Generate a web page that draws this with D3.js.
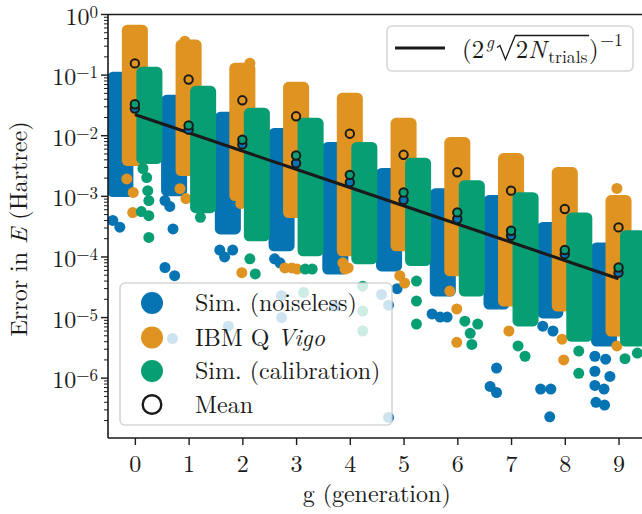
<!DOCTYPE html>
<html><head><meta charset="utf-8">
<script src="https://cdn.jsdelivr.net/npm/d3@7"></script>
<style>
body{margin:0;background:#fff}
svg{display:block}
text{font-family:"Latin Modern Roman","Liberation Serif","Times New Roman",serif;fill:#1a1a1a}
</style>
</head><body>
<svg id="chart" width="642" height="514"></svg>
<script>
// ---------------- data ----------------
const generations = [0,1,2,3,4,5,6,7,8,9];
const seriesNames = ["Sim. (noiseless)", "IBM Q Vigo", "Sim. (calibration)"];

// dense band of each column: highest and lowest point (Hartree)
const blueHi   = [0.092, 0.0384, 0.0201, 0.0109, 0.0064, 0.00238, 0.0011, 0.00085, 0.000306, 0.000141];
const blueLo   = [0.0012, 0.00124, 0.00029, 0.000153, 6.3e-5, 7.1e-5, 2.74e-5, 1.67e-5, 1.19e-5, 4.1e-6];
const orangeHi = [0.55, 0.313, 0.13, 0.063, 0.0415, 0.016, 0.0077, 0.0042, 0.00247, 0.00085];
const orangeLo = [0.0039, 0.00266, 0.00103, 0.00054, 0.000126, 0.000153, 5.9e-5, 1.87e-5, 1.55e-5, 6e-6];
const greenHi  = [0.112, 0.054, 0.0234, 0.016, 0.0064, 0.0035, 0.0015, 0.00095, 0.00044, 0.000224];
const greenLo  = [0.0042, 0.00065, 0.000223, 0.000126, 9.3e-5, 8.7e-5, 2.74e-5, 8.8e-6, 4.9e-6, 4.1e-6];

// isolated points [generation x (jittered), error]
const blueDots = [
  [-0.41,4.0e-4],[-0.28,3.1e-4],
  [0.56,8.5e-4],[0.65,6.8e-4],[0.71,2.9e-4],[0.56,6.7e-5],[0.74,4.9e-5],[0.70,4.5e-6],
  [1.58,1.3e-4],[1.82,1.3e-4],[1.67,1.0e-4],[1.74,7.2e-6],
  [2.60,9.3e-5],[2.70,8.0e-5],[2.73,2.3e-5],[2.73,1.0e-5],
  [3.72,1.55e-5],
  [4.88,3.0e-5],[4.59,2.4e-5],[4.72,1.6e-5],[4.72,2.25e-7],
  [5.53,1.15e-5],[5.68,1.02e-5],[5.81,1.02e-5],
  [6.73,1.47e-6],[6.61,7.3e-7],[6.73,5.8e-7],
  [7.59,7.2e-6],[7.78,6.0e-6],[7.55,6.6e-7],[7.74,6.6e-7],[7.72,2.3e-7],
  [8.56,2.3e-6],[8.76,2.06e-6],[8.56,1.3e-6],[8.84,1.07e-6],[8.56,7.6e-7],[8.73,6.6e-7],[8.58,4.0e-7],[8.74,3.6e-7]
];
const orangeDots = [
  [-0.15,1.94e-3],[-0.03,1.16e-3],[-0.04,5.4e-4],
  [0.93,0.363],[0.84,1.34e-3],[0.95,9.2e-4],
  [2.14,0.157],[1.97,7.6e-4],[1.99,5.5e-5],
  [2.79,6.6e-5],[2.92,6.6e-5],[3.02,6.3e-5],
  [3.87,8.0e-5],[3.91,6.3e-5],[3.97,6.6e-5],
  [4.93,4.9e-5],[5.02,3.7e-5],
  [5.86,2.74e-5],[5.99,1.39e-5],[5.99,3.9e-6],
  [6.96,6.0e-6],
  [7.95,4.4e-6],[7.98,2.0e-6],
  [8.97,1.35e-3],[8.97,3.4e-6]
];
const greenDots = [
  [0.15,2.88e-3],[0.22,2.04e-3],[0.24,1.24e-3],[0.26,8.5e-4],[0.12,5.6e-4],[0.26,4.8e-4],[0.26,2.1e-4],
  [1.22,4.5e-4],
  [2.24,5.25e-5],[2.14,9.3e-5],
  [3.17,6.3e-5],[3.30,6.3e-5],[3.14,2.6e-5],
  [4.24,3.3e-5],[4.24,1.28e-5],[4.24,6.0e-6],
  [5.24,4.0e-5],[5.24,1.87e-5],[5.24,7.8e-6],
  [6.14,8.7e-6],[6.38,7.8e-6],[6.24,5.5e-6],[6.27,3.6e-6],
  [7.13,3.4e-6],[7.26,2.3e-6],
  [8.26,2.8e-6],[8.26,1.2e-6],
  [9.12,2.1e-6],[9.35,2.6e-6]
];

// means per generation
const blueMean   = [0.028, 0.0126, 0.00718, 0.00352, 0.0017, 0.00087, 0.000422, 0.000224, 0.000111, 5.5e-5];
const orangeMean = [0.156, 0.0845, 0.0384, 0.0209, 0.0108, 0.00484, 0.0025, 0.00124, 0.000618, 0.000307];
const greenMean  = [0.033, 0.0148, 0.0086, 0.00472, 0.00226, 0.00116, 0.000543, 0.00027, 0.00013, 6.7e-5];

// (2^g sqrt(2 N_trials))^-1
const boundLine = [0.0224, 0.0112, 0.00559, 0.0028, 0.0014, 0.000699, 0.000349, 0.000175, 8.73e-5, 4.37e-5];

const xTickLabels = ["0","1","2","3","4","5","6","7","8","9"];
const yTickExponents = [0,-1,-2,-3,-4,-5,-6];

// ---------------- drawing ----------------
const svg = d3.select("#chart");
const L = 108, R = 645.4, T = 14.5, B = 438;
const x = d3.scaleLinear().domain([-0.5, 9.5]).range([L, R]);
const y = d3.scaleLog().domain([1.03e-7, 1]).range([B, T]);
const INK = "#1a1a1a";
const RAD = 5.5, JIT = 0.14;

const series = [
  {name: seriesNames[0], color:"#0673b3", offset:-0.27, hi:blueHi, lo:blueLo, dots:blueDots, mean:blueMean},
  {name: seriesNames[1], color:"#df9320", offset:0,     hi:orangeHi, lo:orangeLo, dots:orangeDots, mean:orangeMean},
  {name: seriesNames[2], color:"#089e74", offset:0.27,  hi:greenHi, lo:greenLo, dots:greenDots, mean:greenMean}
];

svg.append("defs").append("clipPath").attr("id","clip")
  .append("rect").attr("x",L).attr("y",T).attr("width",R-L).attr("height",B-T);

const plot = svg.append("g").attr("clip-path","url(#clip)");

series.forEach(s => {
  const g = plot.append("g").attr("fill", s.color);
  g.selectAll("rect").data(generations).join("rect")
    .attr("x", d => x(d + s.offset - JIT) - RAD)
    .attr("width", d => x(d + s.offset + JIT) - x(d + s.offset - JIT) + 2*RAD)
    .attr("y", (d,i) => y(s.hi[i]) - RAD)
    .attr("height", (d,i) => y(s.lo[i]) - y(s.hi[i]) + 2*RAD)
    .attr("rx", RAD);
  g.selectAll("circle").data(s.dots).join("circle")
    .attr("cx", d => x(d[0])).attr("cy", d => y(d[1])).attr("r", RAD);
});

// bound line
plot.append("path").datum(generations)
  .attr("d", d3.line().x(d => x(d)).y((d,i) => y(boundLine[i])))
  .attr("fill","none").attr("stroke",INK).attr("stroke-width",3);

// means
series.forEach(s => {
  plot.append("g").selectAll("circle").data(generations).join("circle")
    .attr("cx", d => x(d)).attr("cy", (d,i) => y(s.mean[i])).attr("r", 4.2)
    .attr("fill", s.color).attr("stroke", INK).attr("stroke-width", 2);
});

// spines
svg.append("line").attr("x1",L).attr("x2",642).attr("y1",T).attr("y2",T).attr("stroke",INK).attr("stroke-width",1.6);
svg.append("line").attr("x1",L).attr("x2",L).attr("y1",T).attr("y2",B).attr("stroke",INK).attr("stroke-width",1.6);
svg.append("line").attr("x1",L).attr("x2",642).attr("y1",B).attr("y2",B).attr("stroke",INK).attr("stroke-width",1.6);

// x axis
const xAxis = svg.append("g").attr("transform",`translate(0,${B})`)
  .call(d3.axisBottom(x).tickValues(generations).tickSize(7).tickSizeOuter(0).tickFormat((d,i)=>xTickLabels[i]));
xAxis.attr("font-family",null);
xAxis.select(".domain").remove();
xAxis.selectAll(".tick line").attr("stroke",INK).attr("stroke-width",1.4);
xAxis.selectAll(".tick text").attr("font-size",24).attr("fill",INK).attr("dy",null).attr("y",34);

// y axis ticks
const isMajor = d => Math.abs(Math.log10(d) - Math.round(Math.log10(d))) < 1e-9;
const yTicksAll = y.ticks(20).filter(v => v >= 1.03e-7 && v <= 1);
svg.append("g").selectAll("line").data(yTicksAll).join("line")
  .attr("x1", d => isMajor(d) ? L-7 : L-4)
  .attr("x2", L).attr("y1", d => y(d)).attr("y2", d => y(d))
  .attr("stroke", INK).attr("stroke-width", d => isMajor(d) ? 1.4 : 1);

const yl = svg.append("g").selectAll("text").data(yTickExponents).join("text")
  .attr("x", 98).attr("y", d => y(Math.pow(10,d)) + 10).attr("text-anchor","end").attr("font-size",24);
yl.append("tspan").text("10");
yl.append("tspan").attr("font-size",17).attr("dy",-7).text(d => d === 0 ? "0" : "\u2212" + Math.abs(d));

// axis labels
svg.append("text").attr("x",(L+R)/2).attr("y",502).attr("text-anchor","middle").attr("font-size",24)
  .text("g (generation)");
const ylab = svg.append("text").attr("transform","translate(27,229) rotate(-90)")
  .attr("text-anchor","middle").attr("font-size",24);
ylab.append("tspan").text("Error in ");
ylab.append("tspan").attr("font-style","italic").text("E");
ylab.append("tspan").text(" (Hartree)");

// legend 1 (lower left)
const lg = svg.append("g");
lg.append("rect").attr("x",120).attr("y",283).attr("width",272).attr("height",142).attr("rx",5)
  .attr("fill","#fff").attr("fill-opacity",0.8).attr("stroke","#cccccc").attr("stroke-opacity",0.8).attr("stroke-width",1.6);
const rowY = [303, 337.5, 371, 404.5];
series.forEach((s,i) => {
  lg.append("circle").attr("cx",152).attr("cy",rowY[i]).attr("r",11).attr("fill",s.color);
});
lg.append("circle").attr("cx",152).attr("cy",rowY[3]).attr("r",9.3).attr("fill","none").attr("stroke",INK).attr("stroke-width",2.4);
lg.append("text").attr("x",195).attr("y",rowY[0]+8).attr("font-size",24).text("Sim. (noiseless)");
const t1 = lg.append("text").attr("x",195).attr("y",rowY[1]+8).attr("font-size",24);
t1.append("tspan").text("IBM Q ");
t1.append("tspan").attr("font-style","italic").text("Vigo");
lg.append("text").attr("x",195).attr("y",rowY[2]+8).attr("font-size",24).text("Sim. (calibration)");
lg.append("text").attr("x",195).attr("y",rowY[3]+8).attr("font-size",24).text("Mean");

// legend 2 (upper right)
const lg2 = svg.append("g");
lg2.append("rect").attr("x",387).attr("y",26).attr("width",246).attr("height",45).attr("rx",5)
  .attr("fill","#fff").attr("fill-opacity",0.8).attr("stroke","#cccccc").attr("stroke-opacity",0.8).attr("stroke-width",1.6);
lg2.append("line").attr("x1",395).attr("x2",445).attr("y1",48).attr("y2",48).attr("stroke",INK).attr("stroke-width",3);

const mathG = lg2.append("g");
function buildMath(k) {
  mathG.selectAll("*").remove();
  const base = 57.5, x0 = 462;
  let cx = x0;
  const M = 24*k, S = 17*k;
  function part(txt, size, opts={}) {
    const t = mathG.append("text").attr("x", cx + (opts.dx||0)).attr("y", base + (opts.dy||0))
      .attr("font-size", size).text(txt);
    if (opts.italic) t.attr("font-style","italic");
    cx += t.node().getComputedTextLength() + (opts.dx||0);
  }
  part("(", M);
  part("2", M);
  part("g", S, {dy:-10, italic:true, dx:1.5*k});
  cx += 3*k;
  const radStart = cx;
  cx += 18*k;
  part("2", M);
  part("N", M, {italic:true});
  part("trials", S, {dy:5, dx:1.5*k});
  cx += 1.5*k;
  const radEnd = cx;
  mathG.append("path")
    .attr("d", `M${radStart},${base-10} l3,-2 l5.5,14 l${7.5*k+2},-24 H${radEnd}`)
    .attr("fill","none").attr("stroke",INK).attr("stroke-width",1.3);
  part(")", M);
  part("\u22121", S, {dy:-12, dx:1.5*k});
  return cx - x0;
}
const w0 = buildMath(1);
const target = 161;
if (Math.abs(w0 - target) > 2) buildMath(Math.min(1.15, Math.max(0.9, target / w0)));
</script>
</body></html>
